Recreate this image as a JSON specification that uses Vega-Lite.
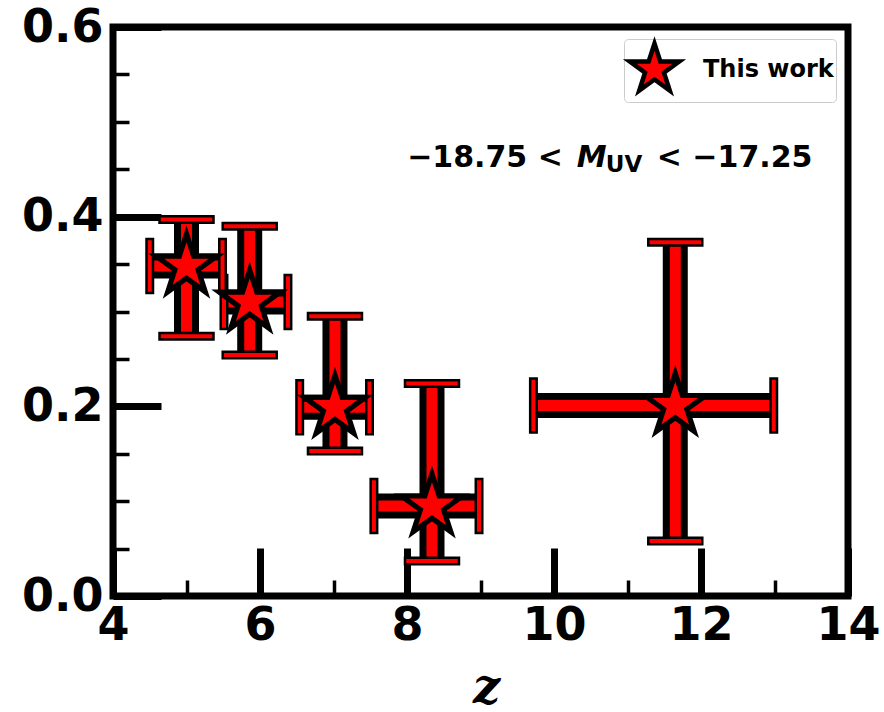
{
  "$schema": "https://vega.github.io/schema/vega-lite/v6.json",
  "width": 735,
  "height": 569,
  "autosize": {"type": "none"},
  "padding": {"left": 113, "top": 27, "right": 36, "bottom": 116},
  "background": "white",
  "config": {
    "view": {"stroke": "black", "strokeWidth": 7},
    "font": "DejaVu Sans"
  },
  "data": {
    "values": [
      {"z": 5.0, "zlo": 4.5, "zhi": 5.49, "f": 0.348, "flo": 0.274, "fhi": 0.397},
      {"z": 5.86, "zlo": 5.51, "zhi": 6.38, "f": 0.31, "flo": 0.254, "fhi": 0.39},
      {"z": 7.02, "zlo": 6.54, "zhi": 7.49, "f": 0.199, "flo": 0.153, "fhi": 0.295},
      {"z": 8.34, "zlo": 7.55, "zhi": 8.98, "f": 0.095, "flo": 0.037, "fhi": 0.224},
      {"z": 11.65, "zlo": 9.72, "zhi": 12.99, "f": 0.201, "flo": 0.058, "fhi": 0.373}
    ]
  },
  "layer": [
    {
      "mark": {"type": "rule", "color": "black", "strokeWidth": 25},
      "encoding": {
        "x": {
          "field": "z", "type": "quantitative",
          "scale": {"domain": [4, 14], "nice": false, "zero": false},
          "axis": {
            "values": [4, 4.5, 5, 5.5, 6, 6.5, 7, 7.5, 8, 8.5, 9, 9.5, 10, 10.5, 11, 11.5, 12, 12.5, 13, 13.5, 14],
            "format": "d",
            "domain": false,
            "grid": false,
            "tickColor": "black",
            "tickSize": {"condition": {"test": "datum.value % 2 === 0", "value": -48}, "value": -16},
            "tickWidth": {"condition": {"test": "datum.value % 2 === 0", "value": 7}, "value": 3.5},
            "labelExpr": "datum.value % 2 === 0 ? datum.label : ''",
            "labelPadding": 55,
            "labelFont": "DejaVu Sans",
            "labelFontSize": 46,
            "labelFontWeight": "bold",
            "labelColor": "black",
            "labelFlush": false,
            "labelOverlap": false,
            "labelBound": false,
            "title": "z",
            "titleFont": "DejaVu Serif",
            "titleFontStyle": "italic",
            "titleFontWeight": "bold",
            "titleFontSize": 48,
            "titleColor": "black",
            "titleX": 373,
            "titleY": 106,
            "titleBaseline": "alphabetic"
          }
        },
        "y": {
          "field": "flo", "type": "quantitative",
          "scale": {"domain": [0, 0.6], "nice": false, "zero": false},
          "axis": {
            "values": [0, 0.05, 0.1, 0.15, 0.2, 0.25, 0.3, 0.35, 0.4, 0.45, 0.5, 0.55, 0.6],
            "format": ".1f",
            "domain": false,
            "grid": false,
            "tickColor": "black",
            "tickSize": {"condition": {"test": "abs(datum.value*5 - round(datum.value*5)) < 0.001", "value": -48}, "value": -16},
            "tickWidth": {"condition": {"test": "abs(datum.value*5 - round(datum.value*5)) < 0.001", "value": 7}, "value": 3.5},
            "labelExpr": "abs(datum.value*5 - round(datum.value*5)) < 0.001 ? datum.label : ''",
            "labelPadding": 58,
            "labelFont": "DejaVu Sans",
            "labelFontSize": 46,
            "labelFontWeight": "bold",
            "labelColor": "black",
            "labelFlush": false,
            "labelOverlap": false,
            "labelBound": false,
            "title": null
          }
        },
        "y2": {"field": "fhi"}
      }
    },
    {
      "mark": {"type": "rule", "color": "black", "strokeWidth": 25},
      "encoding": {
        "x": {"field": "zlo", "type": "quantitative"},
        "x2": {"field": "zhi"},
        "y": {"field": "f", "type": "quantitative"}
      }
    },
    {
      "mark": {"type": "rule", "color": "red", "strokeWidth": 11},
      "encoding": {
        "x": {"field": "z", "type": "quantitative"},
        "y": {"field": "flo", "type": "quantitative"},
        "y2": {"field": "fhi"}
      }
    },
    {
      "mark": {"type": "rule", "color": "red", "strokeWidth": 11},
      "encoding": {
        "x": {"field": "zlo", "type": "quantitative"},
        "x2": {"field": "zhi"},
        "y": {"field": "f", "type": "quantitative"}
      }
    },
    {
      "mark": {"type": "tick", "orient": "horizontal", "size": 54, "thickness": 6.5, "fill": "red", "stroke": "black", "strokeWidth": 2.5, "opacity": 1},
      "encoding": {
        "x": {"field": "z", "type": "quantitative"},
        "y": {"field": "fhi", "type": "quantitative"}
      }
    },
    {
      "mark": {"type": "tick", "orient": "horizontal", "size": 54, "thickness": 6.5, "fill": "red", "stroke": "black", "strokeWidth": 2.5, "opacity": 1},
      "encoding": {
        "x": {"field": "z", "type": "quantitative"},
        "y": {"field": "flo", "type": "quantitative"}
      }
    },
    {
      "mark": {"type": "tick", "orient": "vertical", "size": 54, "thickness": 6.5, "fill": "red", "stroke": "black", "strokeWidth": 2.5, "opacity": 1},
      "encoding": {
        "x": {"field": "zlo", "type": "quantitative"},
        "y": {"field": "f", "type": "quantitative"}
      }
    },
    {
      "mark": {"type": "tick", "orient": "vertical", "size": 54, "thickness": 6.5, "fill": "red", "stroke": "black", "strokeWidth": 2.5, "opacity": 1},
      "encoding": {
        "x": {"field": "zhi", "type": "quantitative"},
        "y": {"field": "f", "type": "quantitative"}
      }
    },
    {
      "mark": {
        "type": "point",
        "shape": "M0,-1L-0.2245,-0.309L-0.9511,-0.309L-0.3633,0.118L-0.5878,0.809L0,0.382L0.5878,0.809L0.3633,0.118L0.9511,-0.309L0.2245,-0.309Z",
        "size": 4096,
        "filled": true,
        "stroke": "black",
        "strokeWidth": 5.2,
        "strokeJoin": "miter",
        "opacity": 1
      },
      "encoding": {
        "x": {"field": "z", "type": "quantitative"},
        "y": {"field": "f", "type": "quantitative"},
        "color": {
          "datum": "This work",
          "type": "nominal",
          "scale": {"range": ["red"]},
          "legend": {
            "title": null,
            "orient": "top-right",
            "offset": 12,
            "symbolType": "M0,-1L-0.2245,-0.309L-0.9511,-0.309L-0.3633,0.118L-0.5878,0.809L0,0.382L0.5878,0.809L0.3633,0.118L0.9511,-0.309L0.2245,-0.309Z",
            "symbolSize": 2700,
            "symbolStrokeColor": "black",
            "symbolStrokeWidth": 4.5,
            "symbolOpacity": 1,
            "labelFont": "DejaVu Sans",
            "labelFontSize": 24,
            "labelFontWeight": "bold",
            "labelColor": "black",
            "labelOffset": 20,
            "strokeColor": "#cccccc",
            "fillColor": "white",
            "cornerRadius": 4,
            "padding": 2
          }
        }
      }
    },
    {
      "data": {"values": [{"z": 10.31, "f": 0.452}]},
      "layer": [
        {
          "mark": {"type": "text", "text": "−18.75 <", "align": "right", "baseline": "alphabetic", "dx": -14, "font": "DejaVu Sans", "fontSize": 30, "fontWeight": "bold", "color": "black"},
          "encoding": {"x": {"field": "z", "type": "quantitative"}, "y": {"field": "f", "type": "quantitative"}}
        },
        {
          "mark": {"type": "text", "text": "M", "align": "left", "baseline": "alphabetic", "dx": 0, "font": "DejaVu Sans", "fontSize": 30, "fontWeight": "bold", "fontStyle": "italic", "color": "black"},
          "encoding": {"x": {"field": "z", "type": "quantitative"}, "y": {"field": "f", "type": "quantitative"}}
        },
        {
          "mark": {"type": "text", "text": "UV", "align": "left", "baseline": "alphabetic", "dx": 29, "dy": 5, "font": "DejaVu Sans", "fontSize": 23, "fontWeight": "bold", "color": "black"},
          "encoding": {"x": {"field": "z", "type": "quantitative"}, "y": {"field": "f", "type": "quantitative"}}
        },
        {
          "mark": {"type": "text", "text": "< −17.25", "align": "left", "baseline": "alphabetic", "dx": 80, "font": "DejaVu Sans", "fontSize": 30, "fontWeight": "bold", "color": "black"},
          "encoding": {"x": {"field": "z", "type": "quantitative"}, "y": {"field": "f", "type": "quantitative"}}
        }
      ]
    }
  ]
}
